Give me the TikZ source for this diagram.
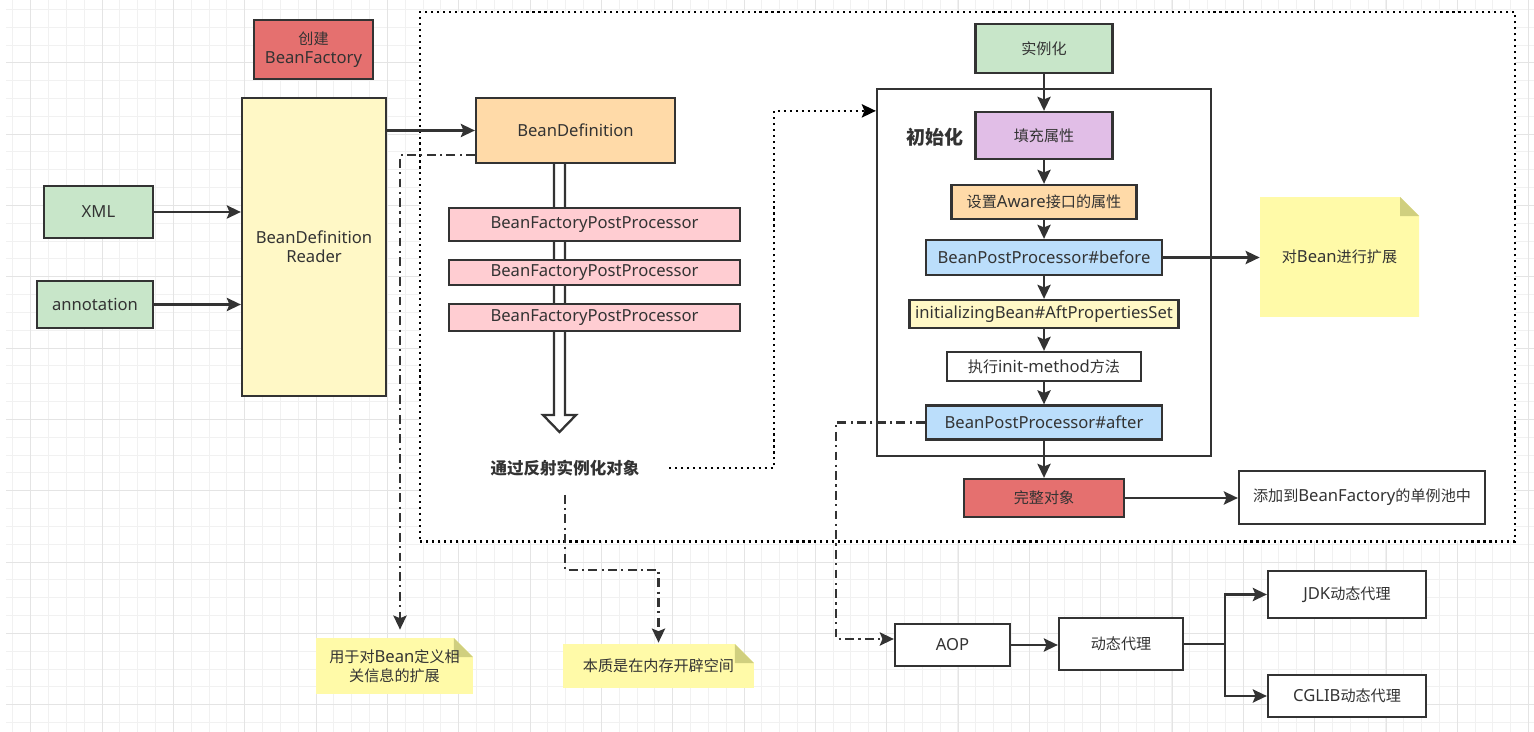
\documentclass[tikz,border=0pt]{standalone}
\usepackage{fontspec}
\setmainfont{Noto Sans}[Scale=1.1]
\newfontfamily\zhfont{Noto Sans CJK SC}
\newcommand\zh[1]{{\zhfont #1}}
\usepackage{xcolor}
\usepackage{tikz}
\usetikzlibrary{arrows.meta,calc}

\definecolor{txt}{HTML}{333333}
\definecolor{line}{HTML}{333333}
\definecolor{gridminor}{HTML}{F1F1F1}
\definecolor{gridmajor}{HTML}{E4E4E4}
\definecolor{redb}{HTML}{E5706F}
\definecolor{yellowb}{HTML}{FFF8C6}
\definecolor{greenb}{HTML}{C8E6C9}
\definecolor{orangeb}{HTML}{FFDAA8}
\definecolor{pinkb}{HTML}{FFCDD2}
\definecolor{purpleb}{HTML}{E1BEE7}
\definecolor{blueb}{HTML}{BBDEFB}
\definecolor{noteb}{HTML}{FFFAA8}
\definecolor{notefold}{HTML}{D0CF7F}

\begin{document}
\begin{tikzpicture}[x=0.02cm,y=-0.02cm,
  box/.style={draw=line,line width=1.3pt,text=txt,font=\fontsize{8.6}{11}\selectfont,inner sep=1pt,align=center},
  note/.style={text=txt,font=\fontsize{8.6}{11}\selectfont,align=center,inner sep=0pt,
    path picture={
      \fill[noteb] (path picture bounding box.south west) -- (path picture bounding box.north west)
        -- ([xshift=-0.38cm]path picture bounding box.north east)
        -- ([yshift=-0.38cm]path picture bounding box.north east)
        -- (path picture bounding box.south east) -- cycle;
      \fill[notefold] ([xshift=-0.38cm]path picture bounding box.north east)
        -- ([xshift=-0.38cm,yshift=-0.38cm]path picture bounding box.north east)
        -- ([yshift=-0.38cm]path picture bounding box.north east) -- cycle;}},
  arr/.style={draw=line,line width=1.4pt,-{Stealth[length=8pt,width=7.5pt,inset=1.5pt]}},
  dashdot/.style={arr,dash pattern=on 5pt off 2.5pt on 1.2pt off 2.5pt},
  dotline/.style={draw=black,line width=1.5pt,dash pattern=on 1.2pt off 2.2pt}]
\useasboundingbox (0,0) rectangle (1534,732);

\foreach \i in {0,...,85}
  \draw[gridminor,line width=0.5pt] ({12.9+17.83*\i},0) -- ({12.9+17.83*\i},732);
\foreach \i in {0,...,40}
  \draw[gridminor,line width=0.5pt] (6,{9.3+17.83*\i}) -- (1534,{9.3+17.83*\i});
\foreach \i in {0,...,21}
  \draw[gridmajor,line width=0.5pt] ({30.7+71.33*\i},0) -- ({30.7+71.33*\i},732);
\foreach \i in {0,...,9}
  \draw[gridmajor,line width=0.5pt] (6,{62.8+71.33*\i}) -- (1534,{62.8+71.33*\i});

\node[dotline,fill=white,minimum width=21.9cm,minimum height=10.59cm] (outer) at (967.5,276.75) {};
\node[draw=line,line width=1.3pt,minimum width=6.68cm,minimum height=7.34cm] (initframe) at (1044,272.5) {};

\draw[line,line width=1.3pt,fill=white] (554,163) -- (554,415) -- (543,415) -- (559.5,432)
  -- (576,415) -- (565,415) -- (565,163);

\node[box,fill=redb,minimum width=2.38cm,minimum height=1.18cm] (bf) at (313.5,49.5) {\zh{创建}\\BeanFactory};
\node[box,fill=yellowb,minimum width=2.88cm,minimum height=5.96cm] (reader) at (314,247) {BeanDefinition\\Reader};
\node[box,fill=greenb,minimum width=2.18cm,minimum height=1.04cm] (xml) at (98.5,212) {XML};
\node[box,fill=greenb,minimum width=2.32cm,minimum height=0.94cm] (ann) at (95,304.5) {annotation};
\node[box,fill=orangeb,minimum width=3.98cm,minimum height=1.3cm] (bd) at (575.5,130.5) {BeanDefinition};
\node[box,fill=pinkb,minimum width=5.82cm,minimum height=0.66cm] (bfpp1) at (594.5,224.5) {BeanFactoryPostProcessor};
\node[box,fill=pinkb,minimum width=5.82cm,minimum height=0.5cm] (bfpp2) at (594.5,272.5) {BeanFactoryPostProcessor};
\node[box,fill=pinkb,minimum width=5.82cm,minimum height=0.54cm] (bfpp3) at (594.5,317.5) {BeanFactoryPostProcessor};
\node[text=txt,font=\fontsize{9.4}{11}\selectfont\bfseries] (refl) at (565,468) {\zh{通过反射实例化对象}};

\node[note,minimum width=3.14cm,minimum height=1.12cm] (n1) at (394.5,666) {\zh{用于对}Bean\zh{定义相}\\\zh{关信息的扩展}};
\node[note,minimum width=3.82cm,minimum height=0.88cm] (n2) at (658.5,666) {\zh{本质是在内存开辟空间}};

\node[box,fill=greenb,minimum width=2.74cm,minimum height=0.98cm] (inst) at (1044,48.5) {\zh{实例化}};
\node[text=txt,font=\fontsize{10.8}{12}\selectfont\bfseries] (initlbl) at (935,137) {\zh{初始化}};
\node[box,fill=purpleb,minimum width=2.74cm,minimum height=0.94cm] (fillprop) at (1044,135.5) {\zh{填充属性}};
\node[box,fill=orangeb,minimum width=3.7cm,minimum height=0.68cm] (aware) at (1044,202) {\zh{设置}Aware\zh{接口的属性}};
\node[box,fill=blueb,minimum width=4.72cm,minimum height=0.7cm] (before) at (1044,257.5) {BeanPostProcessor\#before};
\node[box,fill=yellowb,minimum width=5.38cm,minimum height=0.56cm] (initb) at (1044,314) {initializingBean\#AftPropertiesSet};
\node[box,fill=white,minimum width=3.88cm,minimum height=0.58cm] (initm) at (1044,366.5) {\zh{执行}init-method\zh{方法}};
\node[box,fill=blueb,minimum width=4.72cm,minimum height=0.68cm] (after) at (1044,422.5) {BeanPostProcessor\#after};
\node[box,fill=redb,minimum width=3.2cm,minimum height=0.76cm] (whole) at (1044,498) {\zh{完整对象}};
\node[box,fill=white,minimum width=4.92cm,minimum height=1.06cm] (pool) at (1362,497.5) {\zh{添加到}BeanFactory\zh{的单例池中}};
\node[note,minimum width=3.18cm,minimum height=2.4cm] (n3) at (1339.5,257) {\zh{对}Bean\zh{进行扩展}};

\node[box,fill=white,minimum width=2.3cm,minimum height=0.84cm] (aop) at (952.5,645) {AOP};
\node[box,fill=white,minimum width=2.48cm,minimum height=1.04cm] (dyn) at (1121,644) {\zh{动态代理}};
\node[box,fill=white,minimum width=3.16cm,minimum height=0.94cm] (jdk) at (1347,594.5) {JDK\zh{动态代理}};
\node[box,fill=white,minimum width=3.16cm,minimum height=0.84cm] (cglib) at (1347,696) {CGLIB\zh{动态代理}};

\draw[arr] (xml.east) -- (xml.east -| reader.west);
\draw[arr] (ann.east) -- (ann.east -| reader.west);
\draw[arr] (bd.west -| reader.east) -- (bd.west);
\draw[dashdot] ([yshift=0.18cm]bd.south west) -| ([xshift=0.11cm,yshift=0.16cm]n1.north);
\draw[dashdot] ([yshift=-0.24cm]refl.south) -- ++(0,75) -| ([yshift=0.02cm]n2.north);
\draw[dotline,-{Stealth[length=8pt,width=7.5pt,inset=1.5pt]}] ([xshift=0.46cm]refl.east) -- ++(105,0)
  |- ([yshift=-0.46cm]initframe.north west);

\foreach \a/\b in {inst/fillprop,fillprop/aware,aware/before,before/initb,initb/initm,initm/after,after/whole}
  \draw[arr] (\a) -- (\b);
\draw[arr] (before.east) -- (n3.west |- before.east);
\draw[arr] (whole.east) -- (pool.west |- whole.east);
\draw[dashdot] (after.west) -- ++(-89,0) |- ([yshift=0.12cm]aop.west);
\draw[arr] (aop.east) -- (dyn.west |- aop.east);
\draw[arr] (dyn.east) -- ++(41,0) |- (jdk.west);
\draw[arr] (dyn.east) -- ++(41,0) |- (cglib.west);
\end{tikzpicture}
\end{document}
